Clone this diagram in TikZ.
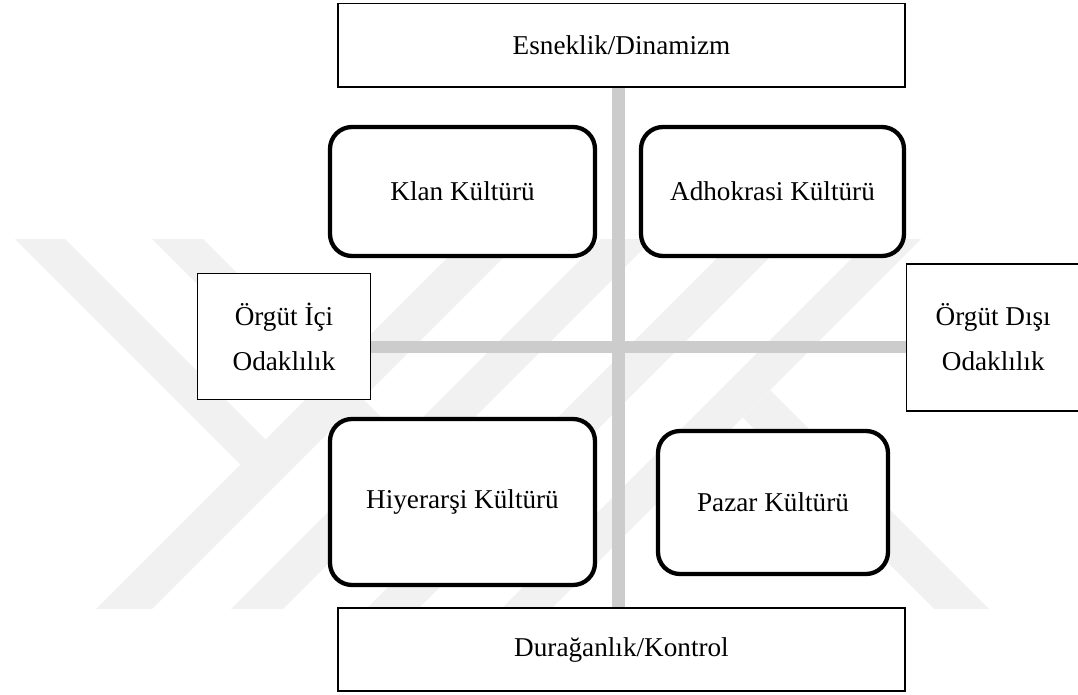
\documentclass[tikz,border=0pt]{standalone}
\usepackage{fontspec}
\setmainfont{Liberation Serif}
\begin{document}
\begin{tikzpicture}[x=1pt,y=-1pt,
  wm/.style={fill=gray!11, draw=none},
  axisline/.style={draw=gray!40, line width=12.5pt},
  plainbox/.style={draw=black, line width=1.3pt, fill=white, align=center, inner sep=0pt,
    font=\fontsize{27.2}{45}\selectfont},
  culture/.style={draw=black, line width=4.3pt, rounded corners=22pt, fill=white, align=center,
    inner sep=0pt, font=\fontsize{27.2}{45}\selectfont},
]
\useasboundingbox (0,0) rectangle (1078,695);
% watermark
\fill[wm] (15,239) -- (65,239) -- (265.5,439.5) -- (240.5,464.5) -- cycle;
\fill[wm] (96,609) -- (152,609) -- (522,239) -- (466,239) -- cycle;
\fill[wm] (152,239) -- (203,239) -- (402,438) -- (376.5,463.5) -- cycle;
\fill[wm] (231,609) -- (283,609) -- (653,239) -- (601,239) -- cycle;
\fill[wm] (366,609) -- (418,609) -- (788,239) -- (736,239) -- cycle;
\fill[wm] (501,609) -- (551,609) -- (921,239) -- (871,239) -- cycle;
\fill[wm] (742.5,417.5) -- (770,390) -- (989,609) -- (934,609) -- cycle;
% boxes
\node[plainbox, minimum width=567pt, minimum height=83.5pt] (top) at (621.5,45.25) {Esneklik/Dinamizm};
\node[plainbox, minimum width=567pt, minimum height=83pt] (bottom) at (621.5,649.5) {Durağanlık/Kontrol};
\node[plainbox, minimum width=173pt, minimum height=126pt] (left) at (284,336.5) {Örgüt İçi\\Odaklılık};
\node[plainbox, minimum width=173.5pt, minimum height=147pt] (right) at (993.25,337.5) {Örgüt Dışı\\Odaklılık};
\coordinate (vx) at (618.5,0);
\coordinate (hy) at (0,347);
\draw[axisline] (top.south -| vx) -- (bottom.north -| vx);
\draw[axisline] (left.east |- hy) -- (right.west |- hy);
\node[culture, minimum width=265pt, minimum height=129pt] (klan) at (462.5,191.5) {Klan Kültürü};
\node[culture, minimum width=263pt, minimum height=129pt] (adho) at (772.5,191.5) {Adhokrasi Kültürü};
\node[culture, minimum width=265pt, minimum height=166pt] (hiy) at (462.5,502) {Hiyerarşi Kültürü};
\node[culture, minimum width=230pt, minimum height=143pt] (pazar) at (773,502.5) {Pazar Kültürü};
\end{tikzpicture}
\end{document}
